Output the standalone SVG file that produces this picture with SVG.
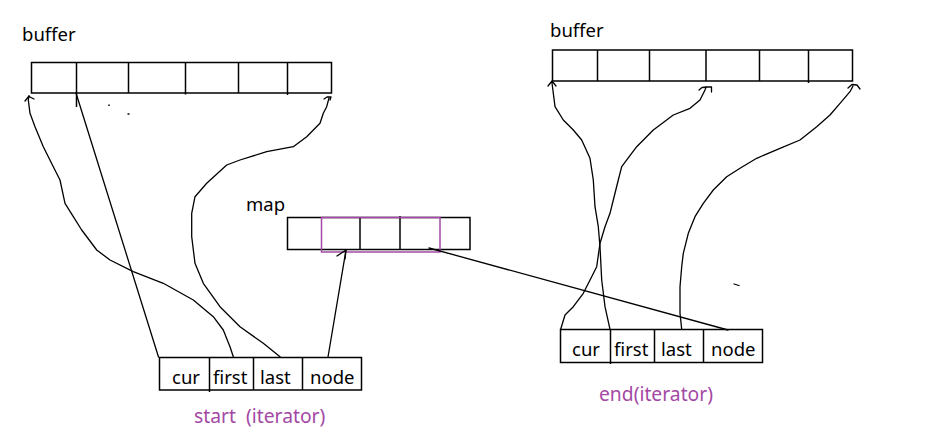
<svg xmlns="http://www.w3.org/2000/svg" width="936" height="447" viewBox="0 0 936 447">
<style>
.box{fill:none;stroke:#000;stroke-width:1.5}
.div{stroke:#000;stroke-width:1.5}
.hl{fill:none;stroke:#a349a4;stroke-width:1.5}
.t{font-family:"Noto Sans","DejaVu Sans",sans-serif;font-size:18.5px;fill:#000}
.p{font-family:"Noto Sans","DejaVu Sans",sans-serif;font-size:19.3px;fill:#a349a4;white-space:pre}
.c{fill:none;stroke:#000;stroke-width:1.3;stroke-linejoin:round;stroke-linecap:round}
</style>
<rect width="936" height="447" fill="#fff"/>
<g id="buffer-left">
<text class="t" x="22" y="41">buffer</text>
<rect class="box" x="31.5" y="62.5" width="300" height="30.5"/>
<line class="div" x1="76.5" y1="62.5" x2="76.5" y2="107"/>
<line class="div" x1="128.5" y1="62.5" x2="128.5" y2="93"/>
<line class="div" x1="185.5" y1="62.5" x2="185.5" y2="94.5"/>
<line class="div" x1="238.5" y1="62.5" x2="238.5" y2="93"/>
<line class="div" x1="287.5" y1="62.5" x2="287.5" y2="95"/>
<line class="div" x1="109" y1="104.5" x2="109" y2="106"/>
<line class="div" x1="127.5" y1="114" x2="129.5" y2="114"/>
</g>
<g id="buffer-right">
<text class="t" x="550" y="37">buffer</text>
<rect class="box" x="552.5" y="50" width="300" height="31"/>
<line class="div" x1="597.5" y1="50" x2="597.5" y2="81"/>
<line class="div" x1="649.5" y1="50" x2="649.5" y2="81"/>
<line class="div" x1="706" y1="50" x2="706" y2="81"/>
<line class="div" x1="759.5" y1="50" x2="759.5" y2="81"/>
<line class="div" x1="808.5" y1="50" x2="808.5" y2="83"/>
</g>
<g id="map">
<text class="t" x="246" y="211">map</text>
<rect class="box" x="287.5" y="217.5" width="182.5" height="32"/>
<line class="div" x1="360" y1="217.5" x2="360" y2="249.5"/>
<line class="div" x1="400" y1="216" x2="400" y2="249.5"/>
<rect class="hl" x="321.5" y="217.5" width="118.5" height="34.5"/>
</g>
<g id="start-iterator">
<rect class="box" x="159.5" y="357.5" width="202" height="32.5"/>
<line class="div" x1="209.5" y1="357.5" x2="209.5" y2="392"/>
<line class="div" x1="253.5" y1="357.5" x2="253.5" y2="390"/>
<line class="div" x1="302.5" y1="357.5" x2="302.5" y2="390"/>
<text class="t" x="172" y="384">cur</text>
<text class="t" x="213" y="384">first</text>
<text class="t" x="260" y="384">last</text>
<text class="t" x="310" y="384">node</text>
<text class="p" x="194" y="423">start  (iterator)</text>
</g>
<g id="end-iterator">
<rect class="box" x="560.5" y="329.5" width="202" height="33"/>
<line class="div" x1="610.5" y1="329.5" x2="610.5" y2="364"/>
<line class="div" x1="654.5" y1="329.5" x2="654.5" y2="362.5"/>
<line class="div" x1="703.5" y1="329.5" x2="703.5" y2="362.5"/>
<text class="t" x="572" y="356">cur</text>
<text class="t" x="614" y="356">first</text>
<text class="t" x="661" y="356">last</text>
<text class="t" x="711" y="356">node</text>
<text class="p" x="599" y="401">end(iterator)</text>
</g>
<g id="connectors">
<line class="c" x1="158.5" y1="357" x2="76" y2="93"/>
<polyline class="c" points="233.3,356.7 230,346.7 223.3,330 213.3,316.7 193.3,300 163.3,283.3 133.3,271.7 110,260 96.7,250 81.7,230 73.3,216.7 65,203.3 60,180 53.3,166.7 43.3,146.7 35,126.7 30,113.3 28.3,100 29,96"/>
<polyline class="c" points="25,101 29,96 30,97 34,99"/>
<polyline class="c" points="280,356.7 263.3,343.3 240,326.7 220,306.7 203.3,283.3 195,263.3 191.7,236.7 191.7,213.3 195,196.7 206.7,183.3 226.7,165 240,160 266.7,151.7 293.3,146.7 306.7,136.7 320,123.3 323.3,113.3 326.7,106.7 329,98"/>
<polyline class="c" points="324,99 327,97 331,97 330,100"/>
<line class="c" x1="328" y1="357" x2="346" y2="250"/>
<polyline class="c" points="337,256 346,250 345,259"/>
<line class="c" x1="429" y1="248" x2="728" y2="330"/>
<polyline class="c" points="610,329.3 605,306.7 601.7,280 600,246.7 598.3,226.7 595,206.7 593.3,180 590,158.3 581.7,140 573.3,130 563.3,120 555,106.7 552,83"/>
<polyline class="c" points="548,86 552,81 556,86"/>
<polyline class="c" points="560.7,329.3 565,315 573.3,306.7 583.3,293.3 591.7,276.7 596.7,266.7 600,243.3 605,226.7 610,213.3 613.3,200 618.3,180 621.7,166.7 636.7,146.7 653.3,130 673.3,115 690,108.3 700,100 705,90 706,87"/>
<polyline class="c" points="699,90 702,87.5 707,87 711.5,87 711.5,92"/>
<polyline class="c" points="681.7,329.3 680,313.3 680,286.7 681.7,266.7 683.3,253.3 688.3,233.3 695,216.7 703.3,203.3 713.3,190 726.7,176.7 740,168.3 756.7,158.3 780,148.3 800,140 816.7,126.7 830,115 840,103.3 850,91.7 853,86"/>
<polyline class="c" points="848,88 852,84.5 857,85 860,89"/>
<line class="c" x1="734" y1="284" x2="739" y2="285.5"/>
</g>
</svg>
